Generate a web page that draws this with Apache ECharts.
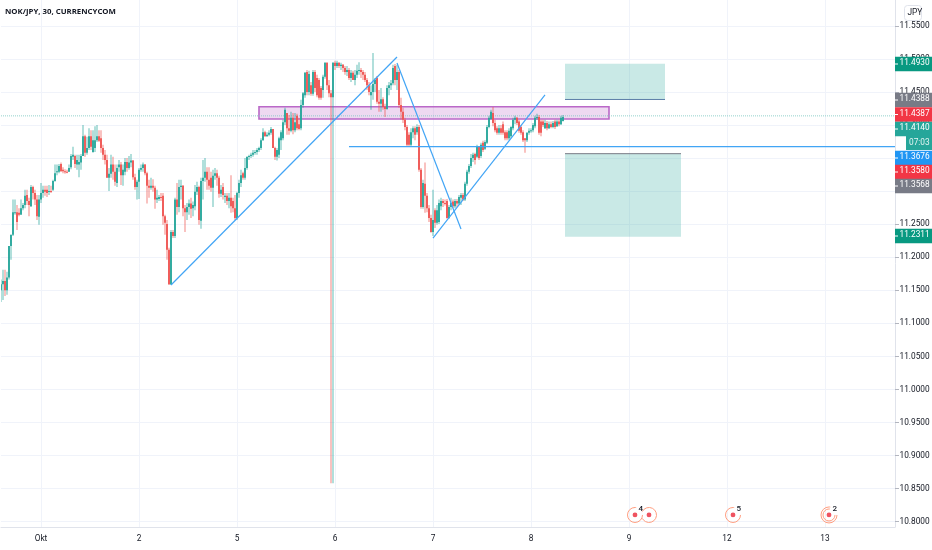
<!DOCTYPE html>
<html><head><meta charset="utf-8">
<style>html,body{margin:0;padding:0;background:#fff}#c{width:932px;height:550px}</style>
<script src="https://cdn.jsdelivr.net/npm/echarts@6/dist/echarts.min.js"></script>
</head><body><div id="c"></div>
<script>
const opens=[11.152,11.161,11.166,11.152,11.171,11.219,11.236,11.270,11.270,11.269,11.266,11.276,11.281,11.296,11.287,11.279,11.308,11.299,11.289,11.263,11.289,11.299,11.304,11.304,11.301,11.302,11.304,11.317,11.331,11.331,11.343,11.334,11.332,11.331,11.331,11.338,11.354,11.355,11.342,11.342,11.345,11.355,11.385,11.360,11.367,11.385,11.361,11.367,11.379,11.385,11.382,11.367,11.357,11.349,11.322,11.328,11.342,11.331,11.314,11.338,11.342,11.326,11.331,11.346,11.337,11.345,11.348,11.323,11.308,11.316,11.334,11.337,11.342,11.329,11.310,11.307,11.310,11.307,11.289,11.290,11.293,11.295,11.264,11.252,11.213,11.161,11.240,11.234,11.289,11.278,11.308,11.310,11.276,11.270,11.278,11.283,11.276,11.279,11.301,11.308,11.257,11.317,11.322,11.331,11.319,11.322,11.307,11.325,11.329,11.322,11.298,11.308,11.293,11.295,11.287,11.292,11.287,11.276,11.261,11.299,11.314,11.329,11.322,11.337,11.354,11.355,11.357,11.360,11.361,11.364,11.367,11.379,11.391,11.385,11.387,11.390,11.396,11.367,11.354,11.357,11.379,11.382,11.406,11.420,11.397,11.393,11.413,11.394,11.416,11.403,11.397,11.432,11.447,11.482,11.452,11.462,11.449,11.482,11.473,11.470,11.458,11.455,11.475,11.496,11.462,11.450,11.444,11.496,11.491,11.496,11.491,11.493,11.488,11.482,11.485,11.473,11.481,11.470,11.478,11.484,11.485,11.482,11.478,11.470,11.462,11.447,11.452,11.464,11.473,11.437,11.434,11.441,11.429,11.426,11.458,11.462,11.465,11.491,11.470,11.482,11.432,11.422,11.410,11.399,11.387,11.372,11.391,11.397,11.391,11.399,11.334,11.278,11.313,11.295,11.276,11.261,11.240,11.273,11.254,11.255,11.279,11.287,11.284,11.287,11.261,11.278,11.286,11.279,11.287,11.283,11.292,11.296,11.289,11.313,11.331,11.340,11.352,11.358,11.354,11.369,11.355,11.375,11.366,11.375,11.399,11.411,11.420,11.405,11.397,11.390,11.397,11.403,11.391,11.391,11.382,11.385,11.397,11.410,11.413,11.407,11.399,11.391,11.382,11.379,11.390,11.393,11.394,11.400,11.413,11.414,11.407,11.407,11.397,11.405,11.397,11.403,11.399,11.407,11.400,11.407,11.403,11.408];
const closes=[11.161,11.166,11.152,11.171,11.219,11.236,11.270,11.270,11.255,11.266,11.276,11.281,11.295,11.287,11.281,11.308,11.299,11.289,11.264,11.289,11.299,11.304,11.301,11.299,11.302,11.301,11.317,11.329,11.332,11.340,11.332,11.332,11.331,11.330,11.337,11.355,11.357,11.343,11.349,11.346,11.355,11.385,11.360,11.367,11.385,11.369,11.379,11.379,11.385,11.378,11.367,11.357,11.349,11.322,11.328,11.342,11.331,11.316,11.337,11.342,11.326,11.334,11.346,11.337,11.345,11.348,11.323,11.308,11.316,11.334,11.337,11.342,11.329,11.310,11.307,11.310,11.307,11.289,11.292,11.293,11.292,11.264,11.254,11.213,11.161,11.240,11.234,11.289,11.278,11.308,11.310,11.276,11.270,11.278,11.283,11.275,11.281,11.301,11.308,11.258,11.317,11.322,11.331,11.319,11.310,11.307,11.325,11.329,11.322,11.298,11.304,11.296,11.295,11.287,11.292,11.279,11.276,11.261,11.299,11.314,11.326,11.322,11.337,11.354,11.355,11.357,11.360,11.361,11.364,11.367,11.379,11.391,11.385,11.387,11.390,11.396,11.367,11.354,11.364,11.382,11.391,11.406,11.425,11.397,11.393,11.413,11.394,11.406,11.397,11.396,11.432,11.450,11.481,11.452,11.479,11.449,11.482,11.458,11.447,11.443,11.443,11.475,11.496,11.462,11.450,11.444,11.496,11.491,11.496,11.491,11.493,11.488,11.482,11.485,11.473,11.481,11.470,11.478,11.484,11.485,11.482,11.478,11.470,11.462,11.452,11.452,11.464,11.470,11.437,11.434,11.441,11.429,11.426,11.458,11.462,11.465,11.488,11.470,11.482,11.432,11.422,11.410,11.399,11.372,11.372,11.391,11.397,11.387,11.399,11.334,11.278,11.314,11.295,11.276,11.261,11.240,11.258,11.254,11.273,11.284,11.287,11.284,11.283,11.261,11.278,11.284,11.279,11.287,11.283,11.293,11.296,11.289,11.313,11.331,11.340,11.352,11.357,11.349,11.369,11.352,11.372,11.364,11.376,11.399,11.413,11.422,11.405,11.394,11.390,11.397,11.390,11.390,11.382,11.382,11.393,11.399,11.410,11.413,11.405,11.393,11.390,11.379,11.379,11.390,11.393,11.394,11.402,11.413,11.414,11.390,11.390,11.402,11.405,11.397,11.403,11.399,11.405,11.399,11.407,11.403,11.413,11.414];
const lows=[11.134,11.137,11.143,11.145,11.168,11.198,11.234,11.266,11.243,11.264,11.267,11.273,11.276,11.281,11.264,11.278,11.289,11.281,11.258,11.251,11.284,11.292,11.295,11.293,11.296,11.299,11.302,11.316,11.326,11.329,11.331,11.329,11.328,11.329,11.331,11.335,11.349,11.337,11.334,11.323,11.334,11.355,11.354,11.357,11.364,11.364,11.360,11.361,11.376,11.376,11.360,11.349,11.342,11.322,11.302,11.322,11.319,11.310,11.308,11.331,11.311,11.310,11.326,11.331,11.334,11.338,11.319,11.304,11.289,11.290,11.331,11.331,11.326,11.283,11.292,11.304,11.301,11.275,11.284,11.287,11.287,11.251,11.236,11.198,11.160,11.160,11.231,11.231,11.266,11.270,11.289,11.264,11.240,11.258,11.266,11.261,11.264,11.273,11.296,11.251,11.245,11.289,11.316,11.304,11.304,11.301,11.278,11.319,11.310,11.292,11.293,11.289,11.284,11.281,11.276,11.269,11.270,11.258,11.258,11.292,11.308,11.319,11.319,11.334,11.349,11.352,11.354,11.357,11.357,11.361,11.364,11.378,11.384,11.384,11.385,11.387,11.367,11.349,11.348,11.352,11.364,11.379,11.402,11.387,11.387,11.391,11.388,11.391,11.394,11.394,11.394,11.428,11.443,11.447,11.447,11.446,11.446,11.452,11.444,11.440,11.440,11.443,11.472,11.455,11.444,10.860,10.860,11.485,11.488,11.488,11.485,11.482,11.478,11.476,11.470,11.467,11.470,11.462,11.473,11.478,11.473,11.470,11.467,11.455,11.447,11.425,11.440,11.452,11.434,11.422,11.422,11.425,11.414,11.425,11.447,11.455,11.462,11.462,11.455,11.428,11.410,11.405,11.394,11.369,11.370,11.370,11.382,11.379,11.387,11.331,11.275,11.275,11.269,11.270,11.255,11.239,11.234,11.246,11.251,11.252,11.273,11.278,11.280,11.260,11.260,11.273,11.276,11.276,11.278,11.281,11.281,11.287,11.287,11.310,11.328,11.337,11.346,11.342,11.352,11.349,11.352,11.361,11.364,11.373,11.397,11.410,11.400,11.391,11.387,11.387,11.387,11.387,11.379,11.379,11.379,11.382,11.394,11.403,11.402,11.390,11.387,11.376,11.360,11.376,11.387,11.390,11.391,11.397,11.410,11.387,11.385,11.399,11.396,11.394,11.396,11.397,11.397,11.396,11.399,11.400,11.402,11.407];
const highs=[11.168,11.183,11.183,11.180,11.219,11.236,11.289,11.289,11.281,11.276,11.289,11.284,11.304,11.304,11.292,11.311,11.310,11.304,11.296,11.296,11.314,11.310,11.310,11.310,11.311,11.310,11.319,11.342,11.342,11.343,11.345,11.338,11.335,11.334,11.342,11.358,11.369,11.357,11.357,11.357,11.358,11.402,11.387,11.384,11.397,11.394,11.394,11.400,11.402,11.394,11.394,11.372,11.364,11.357,11.337,11.357,11.354,11.342,11.342,11.349,11.346,11.342,11.352,11.352,11.355,11.358,11.349,11.328,11.319,11.337,11.342,11.345,11.343,11.331,11.319,11.322,11.320,11.310,11.304,11.296,11.299,11.299,11.266,11.258,11.216,11.243,11.243,11.292,11.314,11.319,11.319,11.311,11.281,11.284,11.289,11.292,11.286,11.311,11.316,11.310,11.322,11.349,11.352,11.338,11.338,11.331,11.334,11.337,11.334,11.325,11.311,11.314,11.299,11.299,11.299,11.326,11.292,11.296,11.301,11.319,11.334,11.331,11.352,11.354,11.357,11.360,11.364,11.364,11.367,11.369,11.382,11.397,11.393,11.391,11.394,11.399,11.396,11.369,11.367,11.384,11.394,11.410,11.428,11.420,11.417,11.422,11.420,11.420,11.419,11.413,11.440,11.452,11.482,11.485,11.484,11.467,11.485,11.485,11.478,11.473,11.461,11.478,11.497,11.497,11.470,11.455,11.497,11.499,11.499,11.497,11.496,11.494,11.491,11.491,11.488,11.485,11.484,11.485,11.493,11.497,11.488,11.485,11.482,11.473,11.467,11.462,11.511,11.473,11.476,11.455,11.458,11.444,11.434,11.462,11.467,11.470,11.493,11.494,11.493,11.485,11.443,11.428,11.413,11.402,11.391,11.397,11.400,11.400,11.403,11.402,11.337,11.319,11.345,11.299,11.281,11.266,11.304,11.276,11.281,11.289,11.292,11.290,11.289,11.290,11.281,11.292,11.289,11.290,11.290,11.296,11.299,11.299,11.316,11.334,11.343,11.358,11.360,11.360,11.372,11.370,11.375,11.378,11.379,11.402,11.416,11.425,11.429,11.410,11.400,11.402,11.402,11.407,11.394,11.394,11.397,11.400,11.413,11.416,11.414,11.410,11.402,11.394,11.382,11.391,11.397,11.397,11.405,11.416,11.419,11.417,11.410,11.410,11.410,11.408,11.407,11.407,11.408,11.410,11.410,11.410,11.416,11.417];

const readingOffset=-0.0017;
const barSlots=448;
const dateLabels=['Okt','2','5','6','7','8','9','12','13'];
const dateBars=[20,69,118,167,216,265,314,363,412];
const priceTicks=[10.8,10.85,10.9,10.95,11,11.05,11.1,11.15,11.2,11.25,11.3,11.35,11.4,11.45,11.5,11.55];
const trendLines=[[85,11.1581,198,11.5031],[198,11.4940,230,11.2429],[216,11.2292,272,11.4456],[174,11.3676,447,11.3676]];
const zone=[129,11.4279,304,11.4093];
const targetBoxes=[[282,11.4930,332,11.4388],[282,11.3568,340,11.2311]];
const lastPrice=11.4140;
const eventBars=[317,324,366,414];
const eventCounts=['4','','5','2'];
const eventPrice=10.8102;
const badgeTexts=['11.4930','11.4388','11.4387','11.4140','11.3676','11.3580','11.3568','11.2311'];
const badgeColors=['#089981','#787b86','#f23645','#26a69a','#2196f3','#f23645','#787b86','#089981'];
const badgeRows=[64,100,114.5,129,158,172,186,236];

const FONT='Roboto,"Open Sans",sans-serif';
const categories=Array.from({length:barSlots},()=>'');
dateBars.forEach((b,i)=>categories[b]=dateLabels[i]);
const candles=closes.map((c,i)=>[i,opens[i]+readingOffset,c+readingOffset,lows[i]+readingOffset,highs[i]+readingOffset]);
const isDate=(i,v)=>v!=='';
const UP='#26a69a',DOWN='#ef5350',LINE='#42a5f5';

function renderCandle(p,api){
  const i=api.value(0),o=api.value(1),c=api.value(2),l=api.value(3),h=api.value(4);
  const x=api.coord([i,o])[0],yo=api.coord([i,o])[1],yc=api.coord([i,c])[1],yl=api.coord([i,l])[1],yh=api.coord([i,h])[1];
  const col=c>=o?UP:DOWN;
  return {type:'group',children:[
    {type:'line',shape:{x1:x,y1:yh,x2:x,y2:yl},style:{stroke:col,lineWidth:1.5,opacity:.48},silent:true},
    {type:'rect',shape:{x:x-.9,y:Math.min(yo,yc),width:1.8,height:Math.max(Math.abs(yo-yc),1)},style:{fill:col},silent:true}
  ]};
}
function renderEvent(p,api){
  const i=api.value(0),pos=api.coord([i,api.value(1)]),kids=[];
  const idx=p.dataIndex;
  const s=idx===1?1.15*Math.PI:0, e=idx===1?2.85*Math.PI:1.55*Math.PI;
  const rings=idx===3?[6,8]:[7.5];
  rings.forEach(r=>kids.push({type:'arc',shape:{cx:pos[0],cy:pos[1],r:r,startAngle:s,endAngle:e},style:{fill:null,stroke:'#ff9e80',lineWidth:1}}));
  kids.push({type:'circle',shape:{cx:pos[0],cy:pos[1],r:2.4},style:{fill:'#ef5360'}});
  if(eventCounts[idx])kids.push({type:'text',x:pos[0]+3.5,y:pos[1]-9.5,style:{text:eventCounts[idx],fill:'#131722',font:'500 8px '+FONT}});
  return {type:'group',children:kids,silent:true};
}
const graphics=[];
badgeTexts.forEach((t,k)=>{
  graphics.push({type:'rect',z:100,shape:{x:895,y:badgeRows[k]-7.2,width:37,height:14.4},style:{fill:badgeColors[k]}});
  graphics.push({type:'line',z:101,shape:{x1:895,y1:badgeRows[k],x2:898,y2:badgeRows[k]},style:{stroke:'#fff',lineWidth:1}});
  graphics.push({type:'text',z:101,x:899.5,y:badgeRows[k]-4.7,style:{text:t,fill:'#fff',font:'8.3px '+FONT}});
});
graphics.push({type:'rect',z:100,shape:{x:906,y:136,width:26,height:14},style:{fill:'#26a69a'}});
graphics.push({type:'text',z:101,x:909,y:138.5,style:{text:'07:03',fill:'#e4f5f3',font:'8.3px '+FONT}});
graphics.push({type:'rect',z:100,shape:{x:904.5,y:5.5,width:17,height:15,r:3},style:{fill:'#fff',stroke:'#e0e3eb',lineWidth:1}});
graphics.push({type:'text',z:101,x:907.5,y:8.5,style:{text:'JPY',fill:'#131722',font:'8.3px '+FONT}});
graphics.push({type:'text',z:50,x:5,y:8,style:{text:'NOK/JPY, 30, CURRENCYCOM',fill:'#131722',font:'700 7.8px "Open Sans"'}});

const overlays=[
  ...trendLines.map(t=>({type:'line',data:[[t[0],t[1]],[t[2],t[3]]],showSymbol:false,silent:true,z:5,lineStyle:{color:LINE,width:1.2}})),
  {type:'line',data:[[282,targetBoxes[0][3]],[332,targetBoxes[0][3]]],showSymbol:false,silent:true,z:5,lineStyle:{color:'#5c7fa8',width:1}},
  {type:'line',data:[[282,targetBoxes[1][1]],[340,targetBoxes[1][1]]],showSymbol:false,silent:true,z:5,lineStyle:{color:'#787b86',width:1}},
  {type:'line',data:[[0,lastPrice],[447,lastPrice]],showSymbol:false,silent:true,z:2,lineStyle:{color:'#80cbc4',width:1,type:[1,1],opacity:.85}}
];

const chart=echarts.init(document.getElementById('c'),null,{renderer:'canvas'});
chart.setOption({
  animation:false,backgroundColor:'#fff',
  grid:{left:1,top:0,width:894,height:527,containLabel:false,outerBoundsMode:'none'},
  xAxis:{type:'category',data:categories,boundaryGap:false,
    axisLine:{lineStyle:{color:'#e0e3eb'}},axisTick:{show:false},
    axisLabel:{interval:isDate,color:'#131722',fontFamily:FONT,fontSize:8.3,margin:7.5,hideOverlap:false},
    splitLine:{show:true,interval:isDate,lineStyle:{color:'#f0f3fa',width:1}}},
  yAxis:{type:'value',position:'right',min:10.7920,max:11.5893,scale:true,
    axisLine:{show:true,lineStyle:{color:'#e0e3eb'}},
    axisTick:{show:true,length:4,customValues:priceTicks,lineStyle:{color:'#b2b5be'}},
    axisLabel:{customValues:priceTicks,color:'#131722',fontFamily:FONT,fontSize:8.3,margin:4.5,formatter:v=>v.toFixed(4)},
    splitLine:{show:true,lineStyle:{color:'#f0f3fa',width:1}}},
  series:[
    {type:'custom',name:'NOK/JPY',renderItem:renderCandle,data:candles,encode:{x:0,y:[1,2,3,4]},clip:true,z:3,
      markArea:{silent:true,data:[
        [{coord:[zone[0],zone[1]],itemStyle:{color:'rgba(186,104,200,.25)',borderColor:'#ba68c8',borderWidth:1.6}},{coord:[zone[2],zone[3]]}],
        ...targetBoxes.map(b=>[{coord:[b[0],b[1]],itemStyle:{color:'rgba(38,166,154,.25)',borderWidth:0}},{coord:[b[2],b[3]]}])
      ]}},
    {type:'custom',name:'events',renderItem:renderEvent,data:eventBars.map((b,i)=>[b,eventPrice,i]),encode:{x:0,y:1},z:4},
    ...overlays
  ],
  graphic:{elements:graphics}
});
</script></body></html>
